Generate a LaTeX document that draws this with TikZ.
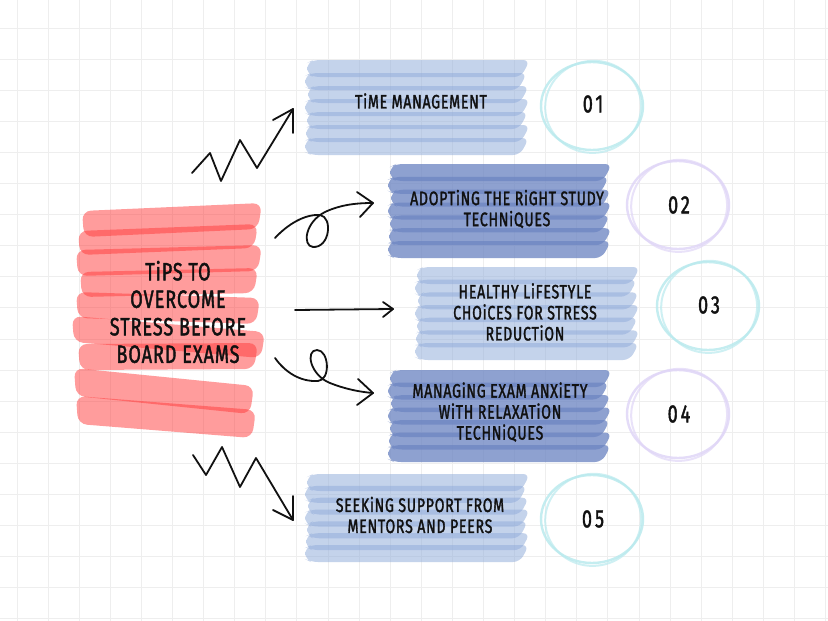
\documentclass[tikz,border=0pt]{standalone}
\usepackage{fontspec}
\setmainfont{Fira Sans}[FakeStretch=0.72,LetterSpace=4,FakeBold=1.6]
\definecolor{gridc}{RGB}{238,238,238}
\definecolor{lbl}{RGB}{145,172,219}
\definecolor{dbl}{RGB}{111,135,195}
\definecolor{redc}{RGB}{255,58,58}
\definecolor{cyc}{RGB}{186,234,238}
\definecolor{lavc}{RGB}{224,214,247}
\definecolor{ink}{RGB}{17,17,17}
\newcommand\brushbox[6]{%
 \foreach \i/\dl/\dr in {0/2/0,1/0/3,2/3/1,3/0/0,4/2/2,5/1/0,6/0/1} {%
   \pgfmathsetmacro\yt{#2+\i*(#4-#2-17)/6}%
   \pgfmathsetmacro\yb{\yt+17}%
   \fill[#5, fill opacity=#6, rounded corners=7pt] ({#1+6+\dl},\yt) -- ({#3-\dr},\yt) -- ({#3-9-\dr},\yb) -- ({#1+6+\dl},\yb) -- ({#1+\dl},{\yb-3}) -- ({#1+\dl},{\yt+3}) -- cycle;
 }}
\newcommand\redstrip[5]{% xL yL xR yR height (top edge)
 \fill[redc, fill opacity=.5, rounded corners=9pt] (#1,#2) -- (#3,#4) -- ({#3-4},{#4+#5}) -- ({#1+2},{#2+#5}) -- cycle;
}
\newcommand\handring[3]{% center, colour
 \draw[#3, line width=2.4, opacity=.85] (#1,#2) ellipse [x radius=51, y radius=44];
 \draw[#3, line width=2, opacity=.7, rotate around={8:(#1,#2)}] ({#1+1},{#2+1}) ellipse [x radius=48, y radius=46];
}
\begin{document}
\begin{tikzpicture}[x=1pt,y=-1pt,
  squig/.style={line width=1.8, line cap=round, line join=round, ink},
  boxtext/.style={align=center, text=ink, font=\fontsize{19.5}{21}\selectfont, inner sep=0},
  numtext/.style={text=ink, font=\addfontfeature{LetterSpace=12}\fontsize{25}{28}\selectfont, inner sep=0},
  redstroke/.style={redc, draw opacity=.5, line width=26, line cap=round}]
\useasboundingbox (0,0) rectangle (828,621);
\fill[white] (0,0) rectangle (828,621);
% grid
\foreach \i in {0,...,26} \draw[gridc, line width=0.9] ({17+31.1*\i},0) -- ({17+31.1*\i},621);
\foreach \i in {0,...,19} \draw[gridc, line width=0.9] (0,{28+31.1*\i}) -- (828,{28+31.1*\i});
% red title block
\redstrip{82}{211}{262}{203}{26}
\redstrip{78}{231}{258}{224}{24}
\redstrip{76}{250}{262}{245}{26}
\redstrip{80}{272}{258}{268}{25}
\redstrip{76}{292}{260}{298}{26}
\redstrip{72}{316}{265}{332}{26}
\redstrip{78}{344}{258}{343}{26}
\redstrip{74}{368}{254}{386}{28}
\redstrip{76}{396}{256}{410}{28}
\node[align=center, text=ink, font=\fontsize{25}{27.5}\selectfont, inner sep=0] (title) at (178,312)
  {TiPS TO\\OVERCOME\\STRESS BEFORE\\BOARD EXAMS};
% boxes
\brushbox{305}{60}{530}{155}{lbl}{0.53}
\brushbox{388}{164}{612}{258}{dbl}{0.78}
\brushbox{415}{267}{640}{360}{lbl}{0.53}
\brushbox{388}{370}{612}{462}{dbl}{0.78}
\brushbox{305}{474}{530}{562}{lbl}{0.53}
\node[boxtext] (t1) at (421,101) {TiME MANAGEMENT};
\node[boxtext] (t2) at (507,209) {ADOPTiNG THE RiGHT STUDY\\TECHNiQUES};
\node[boxtext] (t3) at (525,312) {HEALTHY LiFESTYLE\\CHOiCES FOR STRESS\\REDUCTiON};
\node[boxtext] (t4) at (500,412) {MANAGiNG EXAM ANXiETY\\WiTH RELAXATiON\\TECHNiQUES};
\node[boxtext] (t5) at (420,515) {SEEKiNG SUPPORT FROM\\MENTORS AND PEERS};
% rings and numbers
\handring{592}{106}{cyc}
\handring{678}{205}{lavc}
\handring{708}{306}{cyc}
\handring{678}{414}{lavc}
\handring{592}{519}{cyc}
\node[numtext] (n1) at (593,104) {01};
\node[numtext] (n2) at (679,205) {02};
\node[numtext] (n3) at (709,305) {03};
\node[numtext] (n4) at (679,414) {04};
\node[numtext] (n5) at (593,519) {05};
% connectors
\coordinate (s1) at (192,173); \coordinate (e1) at (293,109);
\coordinate (s2) at (275,238); \coordinate (e2) at (373,203);
\coordinate (s3) at (295,310); \coordinate (e3) at (393,309);
\coordinate (s4) at (275,358); \coordinate (e4) at (373,393);
\coordinate (s5) at (193,455); \coordinate (e5) at (293,520);
\draw[squig] (s1) -- (210,153) -- (221,181) -- (240,140) -- (257,168) -- (e1);
\draw[squig] (273,120) -- (e1) -- (293,133);
\draw[squig] (s2) .. controls (288,224) and (305,214) .. (320,215)
  .. controls (333,217) and (330,248) .. (313,247)
  .. controls (302,246) and (305,222) .. (325,212)
  .. controls (340,205) and (355,203) .. (e2);
\draw[squig] (357,192) -- (e2) -- (360,217);
\draw[squig] (s3) -- (e3);
\draw[squig] (383,302) -- (e3) -- (383,317);
\draw[squig] (s4) .. controls (285,372) and (300,382) .. (318,381)
  .. controls (331,380) and (329,350) .. (317,350)
  .. controls (305,350) and (310,375) .. (330,383)
  .. controls (345,389) and (360,392) .. (e4);
\draw[squig] (358,379) -- (e4) -- (357,405);
\draw[squig] (s5) -- (206,475) -- (222,447) -- (240,487) -- (256,458) -- (e5);
\draw[squig] (273,510) -- (e5) -- (293,496);
\end{tikzpicture}
\end{document}
